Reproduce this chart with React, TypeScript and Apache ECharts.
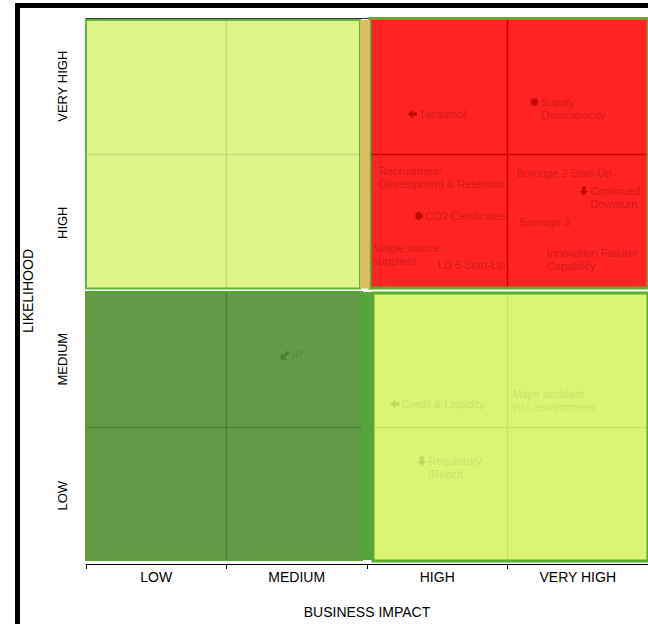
import React, { useEffect, useRef } from "react";
import * as echarts from "echarts";

// Axis categories
const impactLevels = ["LOW", "MEDIUM", "HIGH", "VERY HIGH"];
const likelihoodLevels = ["LOW", "MEDIUM", "HIGH", "VERY HIGH"];

// Zone rectangles in grid units: [impactStart, likelihoodStart, impactEnd, likelihoodEnd]
const zoneNames = ["watch", "critical", "accept", "manage", "upperSeam", "lowerSeam"];
const zoneBounds = [
  [0, 2.018, 1.95, 3.985],
  [2.021, 2.022, 4.0, 3.997],
  [0, 0.029, 1.965, 1.993],
  [2.043, 0.022, 4.0, 1.985],
  [1.95, 2.018, 2.021, 3.985],
  [1.965, 0.029, 2.043, 1.993],
];

// Risks: position on the matrix and trend marker
const riskNames = [
  "Tacaamol",
  "Supply\nOvercapacity",
  "Recruitment/\nDevelopment & Retention",
  "CO2 Certificates",
  "Single source\nsuppliers",
  "LD 5 Start-Up",
  "Borouge 2 Start-Up",
  "Continued\nDownturn",
  "Borouge 3",
  "Innovation Failure/\nCapability",
  "Credit & Liquidity",
  "Major accident\nincl. environment",
  "Regulatory\n/Reach",
  "IP",
];
const riskImpact = [2.323, 3.191, 2.085, 2.369, 2.043, 2.504, 3.064, 3.543, 3.085, 3.28, 2.199, 3.035, 2.39, 1.418];
const riskLikelihood = [3.297, 3.385, 2.832, 2.549, 2.264, 2.19, 2.864, 2.733, 2.505, 2.231, 1.172, 1.201, 0.755, 1.531];
const riskTrend = ["left", "new", "none", "new", "none", "none", "none", "down", "none", "none", "left", "none", "down", "downLeft"];

const FONT = 'Arial, "Liberation Sans", Helvetica, sans-serif';

const zoneStyles: Record<string, { fill: string; stroke?: string; lineWidth?: number; grid?: string }> = {
  watch: { fill: "#e0f48c", stroke: "#62b43a", lineWidth: 2, grid: "#c8dc78" },
  critical: { fill: "#ff2323", stroke: "#5aae2e", lineWidth: 3, grid: "#cf0000" },
  accept: { fill: "#629a48", stroke: "#56a03a", lineWidth: 2, grid: "#4a8236" },
  manage: { fill: "#dcf474", stroke: "#5aae2e", lineWidth: 3, grid: "#cbe266" },
  upperSeam: { fill: "#d9bd5e" },
  lowerSeam: { fill: "#55a538" },
};

const markerPalette: Record<string, { text: string; marker: string }> = {
  severe: { text: "#c9161c", marker: "#b30000" },
  moderate: { text: "#c4dd66", marker: "#b6d058" },
  minor: { text: "#4f8b3c", marker: "#3b7a2c" },
};

const trendSymbols: Record<string, string> = {
  left: "path://M0,5 L5,0 L5,3 L10,3 L10,7 L5,7 L5,10 Z",
  down: "path://M5,10 L0,5 L3,5 L3,0 L7,0 L7,5 L10,5 Z",
  downLeft: "path://M0,10 L0,3 L2.5,5.5 L7.5,0.5 L9.5,2.5 L4.5,7.5 L7,10 Z",
  new: "path://M10,5 L7.8,6.1 L8.54,8.54 L6.1,7.8 L5,10 L3.9,7.8 L1.46,8.54 L2.2,6.1 L0,5 L2.2,3.9 L1.46,1.46 L3.9,2.2 L5,0 L6.1,2.2 L8.54,1.46 L7.8,3.9 Z",
};

function zoneOf(impact: number, likelihood: number) {
  if (impact >= 2 && likelihood >= 2) return "severe";
  if (impact < 2 && likelihood < 2) return "minor";
  return "moderate";
}

export default function App() {
  const ref = useRef<HTMLDivElement>(null);

  useEffect(() => {
    if (!ref.current) return;
    const chart = echarts.init(ref.current, undefined, { renderer: "svg" });

    const riskData = riskNames.map((name, i) => {
      const trend = riskTrend[i];
      const palette = markerPalette[zoneOf(riskImpact[i], riskLikelihood[i])];
      const lines = name.split("\n").length;
      const marked = trend !== "none";
      return {
        name,
        value: [riskImpact[i], riskLikelihood[i]],
        symbol: marked ? trendSymbols[trend] : "circle",
        symbolSize: marked ? (trend === "new" ? 10 : 9) : 0,
        itemStyle: { color: marked ? palette.marker : "rgba(0,0,0,0)" },
        label: {
          show: true,
          position: "right",
          distance: marked ? (trend === "new" ? 1.5 : 2) : 0,
          offset: [0, marked ? (lines - 1) * 6.5 : 0],
          formatter: "{b}",
          color: palette.text,
          fontSize: 11,
          lineHeight: 13,
          fontFamily: FONT,
        },
      };
    });

    const option: any = {
      animation: false,
      backgroundColor: "#ffffff",
      grid: { left: 86, top: 18, width: 564, height: 546 },
      graphic: [
        {
          type: "rect",
          silent: true,
          shape: { x: 17.5, y: 5.6, width: 800, height: 800 },
          style: { fill: "none", stroke: "#000", lineWidth: 5 },
          z: 10,
        },
      ],
      xAxis: [
        {
          type: "category",
          data: impactLevels,
          position: "bottom",
          boundaryGap: true,
          axisLine: { onZero: false, lineStyle: { color: "#000", width: 1 } },
          axisTick: { show: true, length: 5, lineStyle: { color: "#000" } },
          axisLabel: { color: "#000", fontSize: 14, margin: 6, fontFamily: FONT },
          splitLine: { show: false },
          name: "BUSINESS IMPACT",
          nameLocation: "middle",
          nameGap: 41,
          nameTextStyle: { color: "#000", fontSize: 14, fontFamily: FONT },
        },
        {
          type: "value",
          min: 0,
          max: 4,
          position: "top",
          axisLine: { show: true, onZero: false, lineStyle: { color: "#333", width: 1 } },
          axisTick: { show: false },
          axisLabel: { show: false },
          splitLine: { show: false },
        },
      ],
      yAxis: [
        {
          type: "category",
          data: likelihoodLevels,
          boundaryGap: true,
          axisLine: { show: false },
          axisTick: { show: false },
          axisLabel: { color: "#000", fontSize: 13, rotate: 90, margin: 17, fontFamily: FONT },
          splitLine: { show: false },
          name: "LIKELIHOOD",
          nameLocation: "middle",
          nameGap: 51,
          nameTextStyle: { color: "#000", fontSize: 14, fontFamily: FONT },
        },
        { type: "value", min: 0, max: 4, show: false },
      ],
      series: [
        {
          type: "custom",
          xAxisIndex: 1,
          yAxisIndex: 1,
          silent: true,
          z: 1,
          data: zoneBounds.map((b, i) => [b[0], b[1], b[2], b[3], i]),
          encode: { x: [0, 2], y: [1, 3] },
          renderItem: (_params: any, api: any) => {
            const x0 = api.value(0);
            const y0 = api.value(1);
            const x1 = api.value(2);
            const y1 = api.value(3);
            const st = zoneStyles[zoneNames[api.value(4)]];
            const tl = api.coord([x0, y1]);
            const br = api.coord([x1, y0]);
            const children: any[] = [
              {
                type: "rect",
                shape: { x: tl[0], y: tl[1], width: br[0] - tl[0], height: br[1] - tl[1] },
                style: { fill: st.fill, stroke: null, lineWidth: 0 },
              },
            ];
            if (st.grid) {
              for (let k = Math.ceil(x0); k < x1; k++) {
                if (k <= x0) continue;
                const a = api.coord([k, y1]);
                const b = api.coord([k, y0]);
                children.push({
                  type: "line",
                  shape: { x1: a[0], y1: a[1], x2: b[0], y2: b[1] },
                  style: { stroke: st.grid, lineWidth: 1.5 },
                });
              }
              for (let k = Math.ceil(y0); k < y1; k++) {
                if (k <= y0) continue;
                const a = api.coord([x0, k]);
                const b = api.coord([x1, k]);
                children.push({
                  type: "line",
                  shape: { x1: a[0], y1: a[1], x2: b[0], y2: b[1] },
                  style: { stroke: st.grid, lineWidth: 1.5 },
                });
              }
            }
            if (st.stroke) {
              children.push({
                type: "rect",
                shape: { x: tl[0], y: tl[1], width: br[0] - tl[0], height: br[1] - tl[1] },
                style: { fill: null, stroke: st.stroke, lineWidth: st.lineWidth },
              });
            }
            return { type: "group", children };
          },
        },
        {
          type: "scatter",
          xAxisIndex: 1,
          yAxisIndex: 1,
          silent: true,
          z: 3,
          data: riskData,
        },
      ],
    };

    chart.setOption(option);
    return () => chart.dispose();
  }, []);

  return (
    <div
      ref={ref}
      style={{ position: "absolute", left: 0, top: 0, width: 648, height: 624 }}
    />
  );
}
